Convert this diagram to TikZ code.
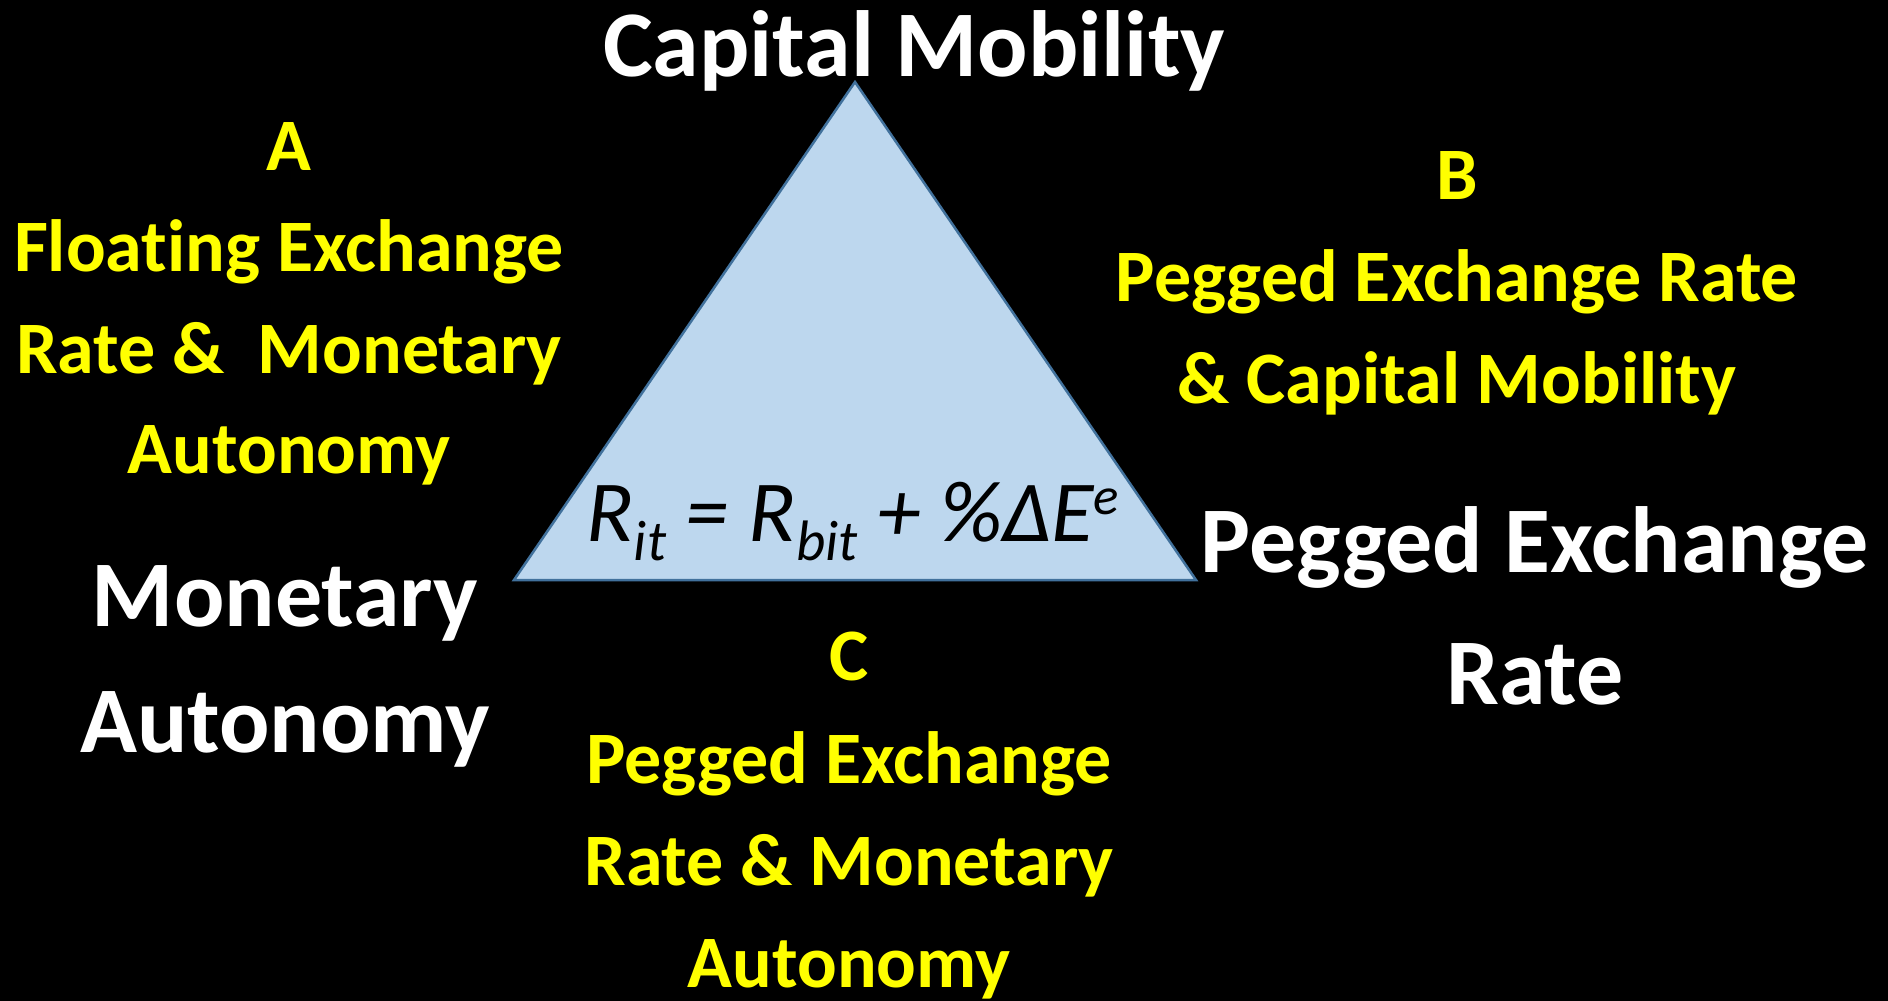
\documentclass[tikz,border=0pt]{standalone}
\usepackage{fontspec}
\setmainfont{Carlito}[Ligatures={NoCommon}]
\definecolor{trifill}{RGB}{189,215,238}
\definecolor{tristroke}{RGB}{65,113,156}
\definecolor{lblyellow}{RGB}{255,255,0}
\newcommand{\eqsub}[1]{\raisebox{-0.22em}{\fontsize{57}{57}\selectfont #1}}
\newcommand{\eqsup}[1]{\raisebox{0.3em}{\fontsize{53}{53}\selectfont #1}}
\begin{document}
\begin{tikzpicture}[x=1pt,y=-1pt,
  bigwhite/.style={text=white,font=\fontsize{94}{94}\selectfont\bfseries,anchor=base,inner sep=0pt},
  yellowlbl/.style={text=lblyellow,font=\fontsize{74}{74}\selectfont\bfseries,anchor=base,inner sep=0pt},
  eqlbl/.style={text=black,font=\fontsize{87}{87}\selectfont\itshape,anchor=base,inner sep=0pt},
  tri/.style={fill=trifill,draw=tristroke,line width=2.5pt,line join=miter}]
\fill[black] (0,0) rectangle (1888,1001);
\useasboundingbox (0,0) rectangle (1888,1001);
% triangle
\coordinate (top) at (855,82);
\coordinate (bl) at (514,580);
\coordinate (br) at (1196,580);
\filldraw[tri] (top) -- (bl) -- (br) -- cycle;
% equation
\node[eqlbl] (eq) at (853,541) {R\eqsub{it} = R\eqsub{bit} + \%ΔE\eqsup{e}};
% corner labels
\node[bigwhite] (cm) at (914,76) {Capital Mobility};
\node[bigwhite] (ma1) at (285,626) {Monetary};
\node[bigwhite] (ma2) at (285,752) {Autonomy};
\node[bigwhite] (pe1) at (1535,572) {Pegged Exchange};
\node[bigwhite] (pe2) at (1535,704) {Rate};
% A
\node[yellowlbl] (a0) at (289,170) {A};
\node[yellowlbl] (a1) at (289,271) {Floating Exchange};
\node[yellowlbl] (a2) at (289,373) {Rate \&\ \ Monetary};
\node[yellowlbl] (a3) at (289,473) {Autonomy};
% B
\node[yellowlbl] (b0) at (1457,199) {B};
\node[yellowlbl] (b1) at (1457,301) {Pegged Exchange Rate};
\node[yellowlbl] (b2) at (1457,403) {\& Capital Mobility};
% C
\node[yellowlbl] (c0) at (849,680) {C};
\node[yellowlbl] (c1) at (849,783) {Pegged Exchange};
\node[yellowlbl] (c2) at (849,885) {Rate \& Monetary};
\node[yellowlbl] (c3) at (849,987) {Autonomy};
\end{tikzpicture}
\end{document}
